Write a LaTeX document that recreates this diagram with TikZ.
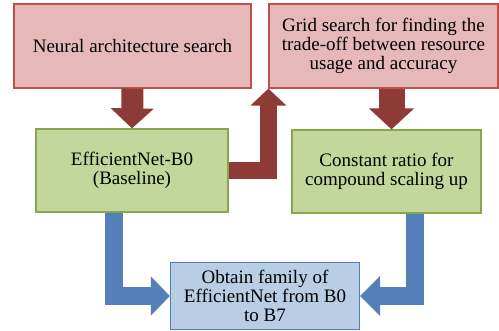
\documentclass[tikz,border=0pt]{standalone}
\usepackage{fontspec}
\setmainfont{Liberation Serif}
\usetikzlibrary{arrows.meta}
\definecolor{pinkfill}{HTML}{E6B9B8}
\definecolor{pinkline}{HTML}{C0504D}
\definecolor{greenfill}{HTML}{C3D69B}
\definecolor{greenline}{HTML}{86A84A}
\definecolor{bluefill}{HTML}{B9CDE5}
\definecolor{blueline}{HTML}{4F81BD}
\definecolor{redarrow}{HTML}{8E3A37}
\definecolor{bluearrow}{HTML}{547FB8}
\tikzset{
  box/.style={draw, line width=1.2pt, align=center, inner sep=2pt,
    font=\fontsize{19}{19.3}\selectfont},
  searchbox/.style={box, fill=pinkfill, draw=pinkline},
  netbox/.style={box, fill=greenfill, draw=greenline},
  resultbox/.style={box, fill=bluefill, draw=blueline},
}
\begin{document}
\begin{tikzpicture}[x=1pt, y=-1pt]
      \useasboundingbox (0,0) rectangle (499,331);
      \node[searchbox, minimum width=237pt, minimum height=84pt] (nas) at (132.5,46)
        {Neural architecture search};
      \node[searchbox, minimum width=229pt, minimum height=84pt] (grid) at (383.5,46)
        {Grid search for finding the\\trade-off between resource\\usage and accuracy};
      \node[netbox, minimum width=192pt, minimum height=83pt] (b0) at (132,170.5)
        {EfficientNet-B0\\(Baseline)};
      \node[netbox, minimum width=189pt, minimum height=83pt] (ratio) at (386.5,171.5)
        {Constant ratio for\\compound scaling up};
      \node[resultbox, minimum width=189pt, minimum height=67pt] (family) at (265,296)
        {Obtain family of\\EfficientNet from B0\\to B7};
      \begin{scope}[line join=miter]
        \draw[redarrow, line width=22pt, -{Triangle[width=42pt, length=20pt]}]
          (nas.south) -- (b0.north);
        \draw[redarrow, line width=17pt, -{Triangle[width=35pt, length=17pt]}]
          (b0.east) -| (grid.south west);
        \draw[redarrow, line width=26pt, -{Triangle[width=44pt, length=21pt]}]
          ([xshift=5pt]ratio.north |- grid.south) -- ([xshift=5pt]ratio.north);
        \draw[bluearrow, line width=18pt, -{Triangle[width=38pt, length=19pt]}]
          ([xshift=-18pt]b0.south) |- (family.west);
        \draw[bluearrow, line width=18pt, -{Triangle[width=39pt, length=20pt]}]
          ([xshift=28pt]ratio.south) |- (family.east);
      \end{scope}
    \end{tikzpicture}
\end{document}
